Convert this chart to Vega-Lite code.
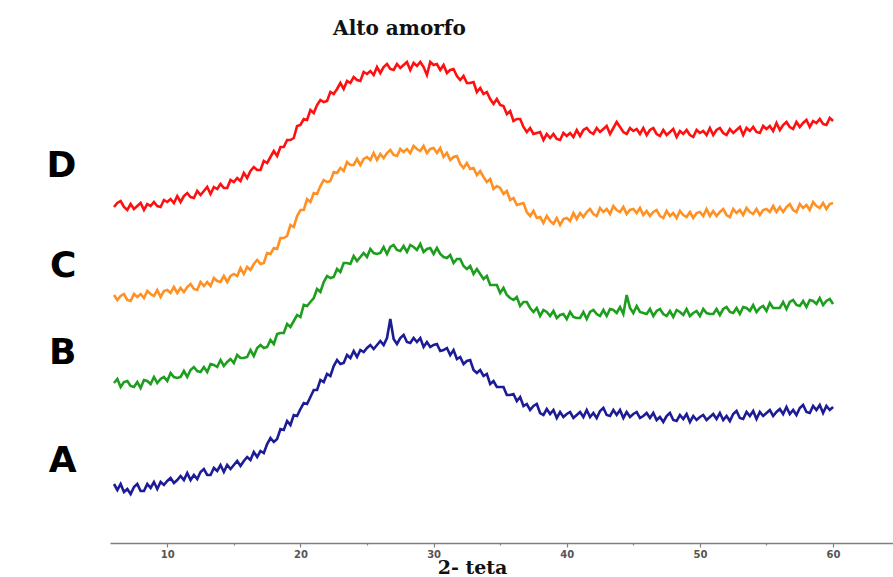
{
"$schema":"https://vega.github.io/schema/vega-lite/v6.json",
"autosize":"none",
"padding":{"left":110,"top":45,"right":0,"bottom":34},
"width":783,"height":498,
"background":"white",
"config":{"view":{"stroke":null}},
"title":{"text":"Alto amorfo","anchor":"start","dx":287,"offset":6,"font":"DejaVu Serif","fontSize":20,"fontWeight":"bold","color":"#111111"},
"data":{"values":[
{"t":6,"A":59,"B":160,"C":248,"D":336},{"t":6.25,"A":53,"B":164,"C":243,"D":340},{"t":6.5,"A":59,"B":156,"C":247,"D":342},{"t":6.75,"A":51,"B":161,"C":249,"D":336},
{"t":7,"A":54,"B":162,"C":243,"D":333},{"t":7.25,"A":49,"B":157,"C":242,"D":339},{"t":7.5,"A":56,"B":156,"C":249,"D":334},{"t":7.75,"A":59,"B":161,"C":246,"D":337},
{"t":8,"A":52,"B":155,"C":249,"D":340},{"t":8.25,"A":52,"B":163,"C":245,"D":333},{"t":8.5,"A":59,"B":162,"C":252,"D":339},{"t":8.75,"A":55,"B":159,"C":249,"D":337},
{"t":9,"A":61,"B":166,"C":247,"D":341},{"t":9.25,"A":54,"B":160,"C":253,"D":337},{"t":9.5,"A":61,"B":164,"C":246,"D":336},{"t":9.75,"A":58,"B":166,"C":252,"D":343},
{"t":10,"A":62,"B":162,"C":253,"D":341},{"t":10.25,"A":65,"B":170,"C":250,"D":344},{"t":10.5,"A":60,"B":166,"C":256,"D":340},{"t":10.75,"A":63,"B":165,"C":250,"D":347},
{"t":11,"A":67,"B":166,"C":255,"D":341},{"t":11.25,"A":63,"B":172,"C":251,"D":347},{"t":11.5,"A":70,"B":166,"C":256,"D":350},{"t":11.75,"A":63,"B":173,"C":259,"D":346},
{"t":12,"A":68,"B":176,"C":254,"D":345},{"t":12.25,"A":64,"B":172,"C":253,"D":352},{"t":12.5,"A":71,"B":171,"C":261,"D":348},{"t":12.75,"A":74,"B":176,"C":257,"D":352},
{"t":13,"A":68,"B":171,"C":261,"D":356},{"t":13.25,"A":68,"B":179,"C":257,"D":349},{"t":13.5,"A":75,"B":178,"C":265,"D":356},{"t":13.75,"A":72,"B":176,"C":262,"D":354},
{"t":14,"A":78,"B":183,"C":261,"D":359},{"t":14.25,"A":71,"B":177,"C":267,"D":355},{"t":14.5,"A":78,"B":181,"C":261,"D":355},{"t":14.75,"A":74,"B":184,"C":267,"D":363},
{"t":15,"A":78,"B":180,"C":269,"D":361},{"t":15.25,"A":82,"B":188,"C":267,"D":365},{"t":15.5,"A":77,"B":185,"C":275,"D":362},{"t":15.75,"A":82,"B":185,"C":269,"D":370},
{"t":16,"A":86,"B":186,"C":276,"D":365},{"t":16.25,"A":83,"B":193,"C":273,"D":372},{"t":16.5,"A":91,"B":187,"C":279,"D":376},{"t":16.75,"A":86,"B":195,"C":283,"D":373},
{"t":17,"A":92,"B":198,"C":279,"D":373},{"t":17.25,"A":90,"B":195,"C":280,"D":382},{"t":17.5,"A":99,"B":196,"C":290,"D":380},{"t":17.75,"A":105,"B":203,"C":289,"D":386},
{"t":18,"A":101,"B":199,"C":295,"D":392},{"t":18.25,"A":104,"B":209,"C":294,"D":387},{"t":18.5,"A":114,"B":210,"C":305,"D":396},{"t":18.75,"A":113,"B":210,"C":305,"D":396},
{"t":19,"A":122,"B":219,"C":307,"D":403},{"t":19.25,"A":118,"B":216,"C":318,"D":403},{"t":19.5,"A":128,"B":222,"C":316,"D":405},{"t":19.75,"A":127,"B":228,"C":327,"D":417},
{"t":20,"A":134,"B":226,"C":333,"D":418},{"t":20.25,"A":140,"B":238,"C":333,"D":424},{"t":20.5,"A":139,"B":237,"C":344,"D":423},{"t":20.75,"A":146,"B":241,"C":341,"D":433},
{"t":21,"A":153,"B":245,"C":350,"D":430},{"t":21.25,"A":153,"B":254,"C":349,"D":438},{"t":21.5,"A":163,"B":251,"C":357,"D":443},{"t":21.75,"A":161,"B":261,"C":363,"D":441},
{"t":22,"A":169,"B":267,"C":361,"D":442},{"t":22.25,"A":167,"B":265,"C":362,"D":451},{"t":22.5,"A":177,"B":266,"C":371,"D":449},{"t":22.75,"A":183,"B":274,"C":370,"D":454},
{"t":23,"A":179,"B":271,"C":375,"D":460},{"t":23.25,"A":180,"B":280,"C":372,"D":454},{"t":23.5,"A":188,"B":280,"C":381,"D":462},{"t":23.75,"A":185,"B":279,"C":378,"D":460},
{"t":24,"A":192,"B":287,"C":378,"D":466},{"t":24.25,"A":186,"B":282,"C":384,"D":463},{"t":24.5,"A":193,"B":286,"C":378,"D":462},{"t":24.75,"A":191,"B":290,"C":384,"D":471},
{"t":25,"A":195,"B":286,"C":386,"D":469},{"t":25.25,"A":198,"B":294,"C":383,"D":472},{"t":25.5,"A":194,"B":290,"C":390,"D":468},{"t":25.75,"A":198,"B":289,"C":383,"D":476},
{"t":26,"A":202,"B":290,"C":389,"D":470},{"t":26.25,"A":198,"B":296,"C":385,"D":476},{"t":26.5,"A":205,"B":289,"C":390,"D":479},{"t":26.75,"A":224,"B":296,"C":393,"D":474},
{"t":27,"A":204,"B":298,"C":388,"D":473},{"t":27.25,"A":199,"B":293,"C":387,"D":479},{"t":27.5,"A":205,"B":292,"C":394,"D":475},{"t":27.75,"A":208,"B":297,"C":391,"D":478},
{"t":28,"A":201,"B":291,"C":394,"D":481},{"t":28.25,"A":200,"B":298,"C":390,"D":473},{"t":28.5,"A":205,"B":296,"C":397,"D":480},{"t":28.75,"A":201,"B":293,"C":394,"D":477},
{"t":29,"A":205,"B":299,"C":392,"D":481},{"t":29.25,"A":196,"B":291,"C":397,"D":476},{"t":29.5,"A":201,"B":294,"C":390,"D":468},{"t":29.75,"A":196,"B":295,"C":394,"D":481},
{"t":30,"A":198,"B":289,"C":395,"D":478},{"t":30.25,"A":199,"B":295,"C":390,"D":479},{"t":30.5,"A":192,"B":289,"C":395,"D":473},{"t":30.75,"A":193,"B":286,"C":386,"D":478},
{"t":31,"A":195,"B":285,"C":390,"D":470},{"t":31.25,"A":188,"B":288,"C":383,"D":473},{"t":31.5,"A":193,"B":280,"C":386,"D":474},{"t":31.75,"A":184,"B":284,"C":387,"D":467},
{"t":32,"A":186,"B":284,"C":379,"D":463},{"t":32.25,"A":179,"B":277,"C":375,"D":467},{"t":32.5,"A":182,"B":274,"C":380,"D":460},{"t":32.75,"A":183,"B":277,"C":374,"D":460},
{"t":33,"A":173,"B":269,"C":375,"D":461},{"t":33.25,"A":170,"B":274,"C":368,"D":451},{"t":33.5,"A":173,"B":269,"C":372,"D":455},{"t":33.75,"A":167,"B":264,"C":366,"D":449},
{"t":34,"A":169,"B":267,"C":361,"D":451},{"t":34.25,"A":159,"B":258,"C":364,"D":444},{"t":34.5,"A":162,"B":258,"C":354,"D":439},{"t":34.75,"A":156,"B":258,"C":357,"D":444},
{"t":35,"A":156,"B":250,"C":355,"D":438},{"t":35.25,"A":156,"B":255,"C":349,"D":437},{"t":35.5,"A":148,"B":248,"C":352,"D":429},{"t":35.75,"A":148,"B":245,"C":343,"D":432},
{"t":36,"A":149,"B":243,"C":345,"D":422},{"t":36.25,"A":142,"B":246,"C":338,"D":424},{"t":36.5,"A":146,"B":237,"C":339,"D":424},{"t":36.75,"A":137,"B":241,"C":340,"D":416},
{"t":37,"A":139,"B":241,"C":331,"D":411},{"t":37.25,"A":133,"B":235,"C":327,"D":415},{"t":37.5,"A":137,"B":231,"C":332,"D":409},{"t":37.75,"A":139,"B":235,"C":325,"D":410},
{"t":38,"A":130,"B":227,"C":326,"D":411},{"t":38.25,"A":128,"B":233,"C":320,"D":403},{"t":38.5,"A":134,"B":231,"C":327,"D":409},{"t":38.75,"A":129,"B":227,"C":322,"D":405},
{"t":39,"A":133,"B":232,"C":319,"D":409},{"t":39.25,"A":125,"B":225,"C":325,"D":404},{"t":39.5,"A":131,"B":228,"C":318,"D":403},{"t":39.75,"A":126,"B":229,"C":324,"D":410},
{"t":40,"A":129,"B":224,"C":325,"D":407},{"t":40.25,"A":131,"B":231,"C":322,"D":410},{"t":40.5,"A":125,"B":226,"C":330,"D":406},{"t":40.75,"A":128,"B":225,"C":324,"D":413},
{"t":41,"A":131,"B":225,"C":330,"D":407},{"t":41.25,"A":126,"B":231,"C":326,"D":413},{"t":41.5,"A":133,"B":224,"C":331,"D":415},{"t":41.75,"A":126,"B":231,"C":334,"D":411},
{"t":42,"A":130,"B":233,"C":329,"D":409},{"t":42.25,"A":125,"B":229,"C":327,"D":415},{"t":42.5,"A":132,"B":227,"C":335,"D":411},{"t":42.75,"A":135,"B":233,"C":331,"D":414},
{"t":43,"A":128,"B":227,"C":334,"D":417},{"t":43.25,"A":127,"B":234,"C":329,"D":409},{"t":43.5,"A":133,"B":233,"C":337,"D":415},{"t":43.75,"A":128,"B":230,"C":333,"D":421},
{"t":44,"A":133,"B":236,"C":331,"D":416},{"t":44.25,"A":125,"B":229,"C":336,"D":411},{"t":44.5,"A":131,"B":248,"C":329,"D":409},{"t":44.75,"A":126,"B":235,"C":333,"D":415},
{"t":45,"A":129,"B":230,"C":334,"D":412},{"t":45.25,"A":131,"B":237,"C":330,"D":414},{"t":45.5,"A":125,"B":231,"C":335,"D":409},{"t":45.75,"A":127,"B":230,"C":328,"D":415},
{"t":46,"A":130,"B":229,"C":332,"D":408},{"t":46.25,"A":125,"B":234,"C":327,"D":413},{"t":46.5,"A":130,"B":227,"C":331,"D":415},{"t":46.75,"A":123,"B":232,"C":333,"D":409},
{"t":47,"A":126,"B":234,"C":327,"D":407},{"t":47.25,"A":121,"B":229,"C":325,"D":413},{"t":47.5,"A":127,"B":227,"C":332,"D":408},{"t":47.75,"A":130,"B":232,"C":327,"D":411},
{"t":48,"A":123,"B":226,"C":330,"D":414},{"t":48.25,"A":122,"B":233,"C":325,"D":406},{"t":48.5,"A":128,"B":231,"C":332,"D":412},{"t":48.75,"A":124,"B":228,"C":328,"D":409},
{"t":49,"A":129,"B":234,"C":326,"D":413},{"t":49.25,"A":121,"B":227,"C":331,"D":408},{"t":49.5,"A":127,"B":230,"C":325,"D":406},{"t":49.75,"A":123,"B":232,"C":330,"D":413},
{"t":50,"A":126,"B":227,"C":331,"D":410},{"t":50.25,"A":128,"B":234,"C":327,"D":412},{"t":50.5,"A":123,"B":230,"C":334,"D":408},{"t":50.75,"A":126,"B":229,"C":327,"D":415},
{"t":51,"A":129,"B":229,"C":332,"D":408},{"t":51.25,"A":124,"B":234,"C":327,"D":413},{"t":51.5,"A":130,"B":228,"C":331,"D":415},{"t":51.75,"A":123,"B":234,"C":334,"D":410},
{"t":52,"A":127,"B":236,"C":328,"D":408},{"t":52.25,"A":122,"B":231,"C":326,"D":414},{"t":52.5,"A":129,"B":230,"C":334,"D":410},{"t":52.75,"A":132,"B":235,"C":330,"D":413},
{"t":53,"A":125,"B":229,"C":333,"D":416},{"t":53.25,"A":124,"B":236,"C":328,"D":408},{"t":53.5,"A":131,"B":235,"C":335,"D":415},{"t":53.75,"A":127,"B":232,"C":331,"D":412},
{"t":54,"A":132,"B":238,"C":329,"D":416},{"t":54.25,"A":124,"B":231,"C":334,"D":411},{"t":54.5,"A":131,"B":235,"C":328,"D":410},{"t":54.75,"A":127,"B":237,"C":333,"D":417},
{"t":55,"A":130,"B":232,"C":334,"D":414},{"t":55.25,"A":133,"B":240,"C":331,"D":417},{"t":55.5,"A":127,"B":235,"C":337,"D":412},{"t":55.75,"A":131,"B":235,"C":331,"D":420},
{"t":56,"A":134,"B":235,"C":336,"D":413},{"t":56.25,"A":129,"B":241,"C":331,"D":418},{"t":56.5,"A":136,"B":234,"C":336,"D":421},{"t":56.75,"A":129,"B":241,"C":339,"D":416},
{"t":57,"A":133,"B":243,"C":333,"D":414},{"t":57.25,"A":128,"B":238,"C":331,"D":421},{"t":57.5,"A":135,"B":237,"C":339,"D":416},{"t":57.75,"A":138,"B":242,"C":335,"D":420},
{"t":58,"A":131,"B":236,"C":338,"D":423},{"t":58.25,"A":130,"B":243,"C":333,"D":416},{"t":58.5,"A":137,"B":242,"C":341,"D":422},{"t":58.75,"A":133,"B":239,"C":337,"D":420},
{"t":59,"A":138,"B":245,"C":335,"D":424},{"t":59.25,"A":130,"B":238,"C":340,"D":419},{"t":59.5,"A":137,"B":242,"C":334,"D":418},{"t":59.75,"A":133,"B":244,"C":339,"D":425},
{"t":60,"A":136,"B":239,"C":340,"D":422}
]},
"transform":[{"fold":["A","B","C","D"],"as":["sample","intensity"]}],
"mark":{"type":"line","strokeWidth":2.6,"interpolate":"linear"},
"encoding":{
"x":{"field":"t","type":"quantitative","scale":{"domain":[5.7,64.5],"nice":false,"zero":false},
"axis":{"values":[10,15,20,25,30,35,40,45,50,55,60],"labelExpr":"datum.value % 10 === 0 ? datum.label : ''","grid":false,"domainColor":"#808080","domainWidth":1.5,"tickColor":"#808080","tickWidth":1.2,"tickSize":{"condition":{"test":"datum.value % 10 === 0","value":4},"value":2},"labelFontSize":10,"labelFontWeight":"bold","labelColor":"#555555","labelPadding":2,"labelFont":"DejaVu Sans",
"title":"2- teta","titleFont":"DejaVu Serif","titleFontSize":19,"titleFontWeight":"bold","titleColor":"#111111","titleX":362,"titleY":30,"titleBaseline":"alphabetic","titleAnchor":null}},
"y":{"field":"intensity","type":"quantitative","scale":{"domain":[0,498],"nice":false,"zero":false},
"axis":{"values":[83,191,278,378],"labelExpr":"datum.value > 350 ? 'D' : datum.value > 250 ? 'C' : datum.value > 150 ? 'B' : 'A'","domain":false,"ticks":false,"grid":false,"title":null,"labelFont":"DejaVu Sans","labelFontSize":36,"labelFontWeight":"bold","labelColor":"#000000","labelPadding":34,"labelOverlap":false,"labelBaseline":"middle"}},
"color":{"field":"sample","type":"nominal","scale":{"domain":["A","B","C","D"],"range":["#1c1c96","#1e9e1e","#ff9124","#ff1010"]},"legend":null}
}
}
